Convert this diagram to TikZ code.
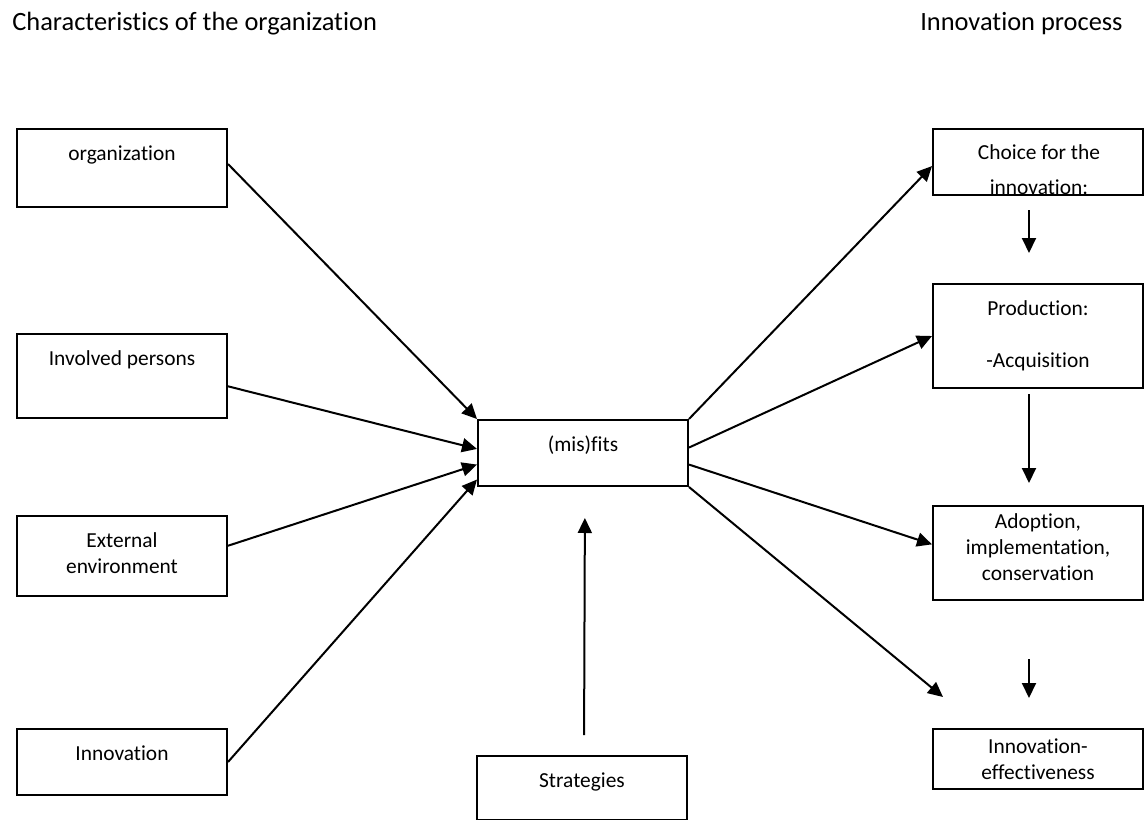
\documentclass[tikz,border=0pt]{standalone}
\usepackage{fontspec}
\setmainfont{Carlito}[Ligatures=NoCommon]
\usetikzlibrary{arrows.meta,calc}
% text of a box: height, baseline of first line, lines
\newcommand{\boxtxt}[3]{\parbox[t][#1][t]{105pt}{\centering\fontsize{10.7}{13}\selectfont\rule{0pt}{#2}#3}}

\begin{document}
\begin{tikzpicture}[x=0.5pt,y=-0.5pt,
  box/.style={draw,line width=1pt,inner sep=0pt,anchor=north west},
  arr/.style={-{Triangle[length=7.5pt,width=7pt]},line width=1pt},
  head/.style={font=\fontsize{13.2}{16}\selectfont,inner sep=0pt}]
\useasboundingbox (0,0) rectangle (1148,820);
% headings
\node[head,anchor=base west] (hleft) at (12,30) {Characteristics of the organization};
\node[head,anchor=base east] (hright) at (1123,30) {Innovation process};
% characteristics
\node[box] (org) at (16,128) {\boxtxt{39pt}{15.5pt}{organization}};
\node[box] (inv) at (16,333) {\boxtxt{42pt}{15.5pt}{Involved persons}};
\node[box] (ext) at (16,515) {\boxtxt{40pt}{15.5pt}{External\\environment}};
\node[box] (inn) at (16,728) {\boxtxt{33pt}{15.5pt}{Innovation}};
% middle
\node[box] (fit) at (477,419) {\boxtxt{33pt}{15.5pt}{(mis)fits}};
\node[box] (strat) at (476,755) {\boxtxt{32pt}{15.5pt}{Strategies}};
% innovation process
\node[box,minimum width=105pt,minimum height=33pt,
  path picture={\node[draw=none,anchor=north west,inner sep=0pt] at (path picture bounding box.north west)
    {\boxtxt{33pt}{14.5pt}{Choice for the\\[4.5pt]innovation:}};}] (choice) at (932,128) {};
\node[box] (prod) at (932,283) {\boxtxt{52pt}{15.5pt}{Production:\\[13pt]-Acquisition}};
\node[box] (adopt) at (932,505) {\boxtxt{47pt}{11pt}{Adoption,\\implementation,\\conservation}};
\node[box] (eff) at (932,728) {\boxtxt{30pt}{12pt}{Innovation-\\effectiveness}};
\coordinate (effin) at (943,697);
% into the (mis)fits
\draw[arr] ($(org.north east)!0.45!(org.south east)$) -- (fit.north west);
\draw[arr] ($(inv.north east)!0.62!(inv.south east)$) -- ($(fit.north west)!0.44!(fit.south west)$);
\draw[arr] ($(ext.north east)!0.375!(ext.south east)$) -- ($(fit.north west)!0.67!(fit.south west)$);
\draw[arr] (inn.east) -- ($(fit.north west)!0.89!(fit.south west)$);
\draw[arr,shorten <=10pt,shorten >=15.5pt] ([xshift=1pt]strat.north) -- ([xshift=1pt]fit.south);
% out of the (mis)fits
\draw[arr] (fit.north east) -- ($(choice.north west)!0.56!(choice.south west)$);
\draw[arr] ($(fit.north east)!0.42!(fit.south east)$) -- (prod.west);
\draw[arr] ($(fit.north east)!0.67!(fit.south east)$) -- ($(adopt.north west)!0.41!(adopt.south west)$);
\draw[arr] (fit.south east) -- (effin);
% steps
\draw[arr,shorten <=7pt,shorten >=15pt] ([xshift=-4.5pt]choice.south) -- ([xshift=-4.5pt]prod.north);
\draw[arr,shorten <=2.5pt,shorten >=11pt] ([xshift=-4.5pt]prod.south) -- ([xshift=-4.5pt]adopt.north);
\draw[arr,shorten <=29pt,shorten >=15pt] ([xshift=-4.5pt]adopt.south) -- ([xshift=-4.5pt]eff.north);
\end{tikzpicture}
\end{document}
